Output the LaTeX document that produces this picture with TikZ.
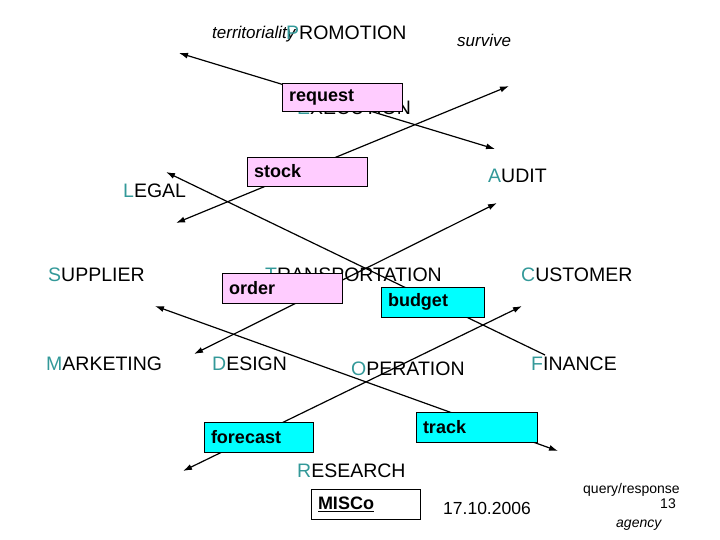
\documentclass[tikz,border=0pt]{standalone}
\usepackage{fontspec}
\setmainfont{Liberation Sans}
\usetikzlibrary{arrows.meta}
\definecolor{initial}{RGB}{51,153,153}
\definecolor{boxpink}{RGB}{255,204,255}
\definecolor{boxcyan}{RGB}{0,255,255}
\newcommand{\first}[1]{\textcolor{initial}{#1}}
\tikzset{
  word/.style={anchor=base west,inner sep=0pt,font=\fontsize{19.5}{20}\selectfont},
  note/.style={anchor=base west,inner sep=0pt,font=\fontsize{17}{18}\selectfont\itshape},
  small/.style={inner sep=0pt,font=\fontsize{14}{15}\selectfont},
  tip/.style={line width=1.2pt,black,-{Latex[length=9pt,width=6pt]}},
  arr/.style={tip,{Latex[length=9pt,width=6pt]}-{Latex[length=9pt,width=6pt]}},
  box/.style={draw=black,line width=0.8pt,inner xsep=7pt,inner ysep=0pt,align=left,
    font=\fontsize{18}{18}\selectfont\bfseries},
  pinkbox/.style={box,fill=boxpink},
  cyanbox/.style={box,fill=boxcyan},
  whitebox/.style={box,fill=white}
}
\begin{document}
\begin{tikzpicture}[x=1pt,y=-1pt]
    \useasboundingbox (0,0) rectangle (720,540);

    % words
    \node[note] (territoriality) at (212,39) {territoriality};
    \node[word] (promotion) at (286,40) {\first{P}ROMOTION};
    \node[note] (survive) at (457,47) {survive};
    \node[word] (execution) at (297,115) {\first{E}XECUTION};
    \node[word] (legal) at (123,197) {\first{L}EGAL};
    \node[word] (audit) at (488,183) {\first{A}UDIT};
    \node[word] (supplier) at (48,281) {\first{S}UPPLIER};
    \node[word] (transportation) at (265,281) {\first{T}RANSPORTATION};
    \node[word] (customer) at (521,281) {\first{C}USTOMER};
    \node[word] (marketing) at (46,370) {\first{M}ARKETING};
    \node[word] (design) at (212,370) {\first{D}ESIGN};
    \node[word] (operation) at (351,375) {\first{O}PERATION};
    \node[word] (finance) at (531,370) {\first{F}INANCE};
    \node[word] (research) at (297,477) {\first{R}ESEARCH};
    \node[word,font=\fontsize{17.5}{18}\selectfont] (date) at (443,514) {17.10.2006};
    \node[small,anchor=base west] (query) at (583,493) {query/response};
    \node[small,anchor=base east] (page) at (676,508) {13};
    \node[small,anchor=base west,font=\fontsize{14}{15}\selectfont\itshape] (agency) at (616,527) {agency};

    % arrow ends
    \coordinate (a1) at (179,53);  \coordinate (a2) at (495,149);
    \coordinate (b1) at (176,223); \coordinate (b2) at (509,86);
    \coordinate (c1) at (166,172); \coordinate (c2) at (545,355);
    \coordinate (d1) at (497,203); \coordinate (d2) at (194,354);
    \coordinate (e1) at (155,306); \coordinate (e2) at (558,451);
    \coordinate (f1) at (522,306); \coordinate (f2) at (183,471);

    \draw[arr] (a1) -- (a2);
    \draw[arr] (b1) -- (b2);
    \draw[tip] (c2) -- (c1);
    \draw[arr] (d1) -- (d2);
    \draw[arr] (e1) -- (e2);
    \draw[arr] (f1) -- (f2);

    % boxes
    \node[pinkbox,text width=106,minimum height=28] (request) at (342,97) {request};
    \node[pinkbox,text width=106,minimum height=29] (stock) at (307,171.5) {stock};
    \node[pinkbox,text width=106,minimum height=30] (order) at (282,288) {order};
    \node[cyanbox,text width=89,minimum height=30] (budget) at (432.5,302) {budget};
    \node[cyanbox,text width=95,minimum height=30] (forecast) at (258.5,437) {forecast};
    \node[cyanbox,text width=107,minimum height=30] (track) at (476.5,427) {track};
    \node[whitebox,text width=95,minimum height=30] (misco) at (365.5,504) {\underline{MISCo}};
\end{tikzpicture}
\end{document}
